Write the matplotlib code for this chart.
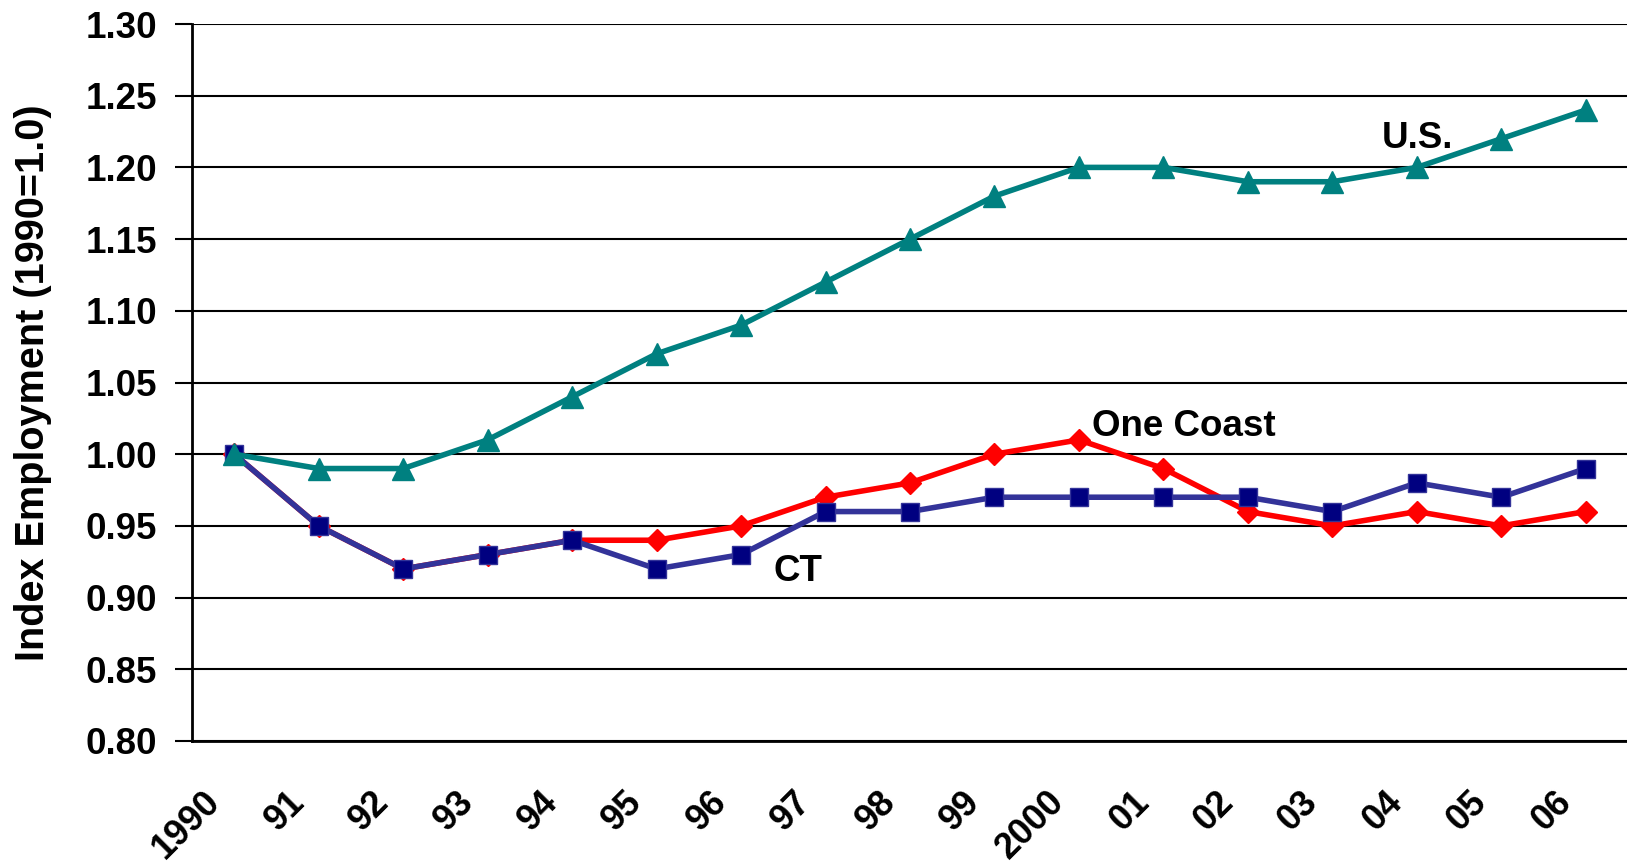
import matplotlib
matplotlib.use("Agg")
import matplotlib.pyplot as plt
from matplotlib.transforms import ScaledTranslation

years = ["1990", "91", "92", "93", "94", "95", "96", "97", "98", "99",
         "2000", "01", "02", "03", "04", "05", "06"]
us = [1.00, 0.99, 0.99, 1.01, 1.04, 1.07, 1.09, 1.12, 1.15, 1.18,
      1.20, 1.20, 1.19, 1.19, 1.20, 1.22, 1.24]
one_coast = [1.00, 0.95, 0.92, 0.93, 0.94, 0.94, 0.95, 0.97, 0.98, 1.00,
             1.01, 0.99, 0.96, 0.95, 0.96, 0.95, 0.96]
ct = [1.00, 0.95, 0.92, 0.93, 0.94, 0.92, 0.93, 0.96, 0.96, 0.97,
      0.97, 0.97, 0.97, 0.96, 0.98, 0.97, 0.99]
yticks = [0.80, 0.85, 0.90, 0.95, 1.00, 1.05, 1.10, 1.15, 1.20, 1.25, 1.30]

plt.rcParams['font.family'] = ['Liberation Sans', 'DejaVu Sans']
plt.rcParams['font.weight'] = 'bold'

W, H = 1627, 866
fig = plt.figure(figsize=(W / 100, H / 100), dpi=100)
L, R, T, B = 192, 1628, 24, 741
ax = fig.add_axes([L / W, (H - B) / H, (R - L) / W, (B - T) / H])

x = list(range(len(years)))
ax.plot(x, one_coast, color='#FF0000', lw=4.0, marker='D', ms=11.5,
        markerfacecolor='#FF0000', markeredgecolor='#FF0000', zorder=3)
ax.plot(x, ct, color='#333399', lw=4.0, marker='s', ms=13.5, mew=1,
        markerfacecolor='#000080', markeredgecolor='#333399', zorder=4)
ax.plot(x, us, color='#008080', lw=4.0, marker='^', ms=16.5,
        markerfacecolor='#008080', markeredgecolor='#008080', zorder=5)

ax.set_xlim(-0.5, len(years) - 0.5)
ax.set_ylim(0.80, 1.30)
ax.set_yticks(yticks)
ax.set_yticklabels([f"{v:.2f}" for v in yticks], fontsize=26.5, fontweight='bold')
ax.set_xticks(x)
ax.set_xticklabels(years, fontsize=26, fontweight='bold', rotation=45,
                   ha='right', va='top', rotation_mode='anchor')
ax.tick_params(axis='x', length=0, pad=31)
ax.tick_params(axis='y', length=12, width=1.5, direction='out', pad=13)
off = ScaledTranslation(-32 / 100, 0, fig.dpi_scale_trans)
for lab in ax.get_xticklabels():
    lab.set_transform(lab.get_transform() + off)

for v in yticks:
    ax.axhline(v, color='black', lw=1.5, zorder=1)

for s in ['top', 'right']:
    ax.spines[s].set_visible(False)
ax.spines['left'].set_linewidth(2)
ax.spines['bottom'].set_linewidth(2)

ax.set_ylabel("Index Employment (1990=1.0)", fontsize=28.5, fontweight='bold', labelpad=24)

ax.text(13.59, 1.2205, "U.S.", fontsize=26.5, fontweight='bold', ha='left', va='center')
ax.text(10.15, 1.019, "One Coast", fontsize=26.5, fontweight='bold', ha='left', va='center')
ax.text(6.38, 0.918, "CT", fontsize=26.5, fontweight='bold', ha='left', va='center')

fig.savefig("out.png", dpi=100)
